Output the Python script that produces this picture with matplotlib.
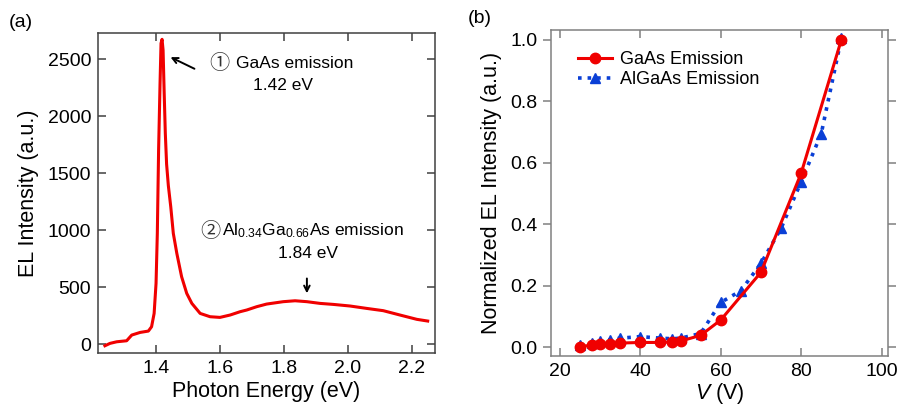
import matplotlib
matplotlib.use('Agg')
import matplotlib.pyplot as plt

plt.rcParams['font.family'] = ['Liberation Sans', 'Noto Sans CJK JP', 'DejaVu Sans']
plt.rcParams['mathtext.fontset'] = 'custom'
plt.rcParams['mathtext.rm'] = 'Liberation Sans'
plt.rcParams['mathtext.it'] = 'Liberation Sans:italic'

# (a) EL spectrum
energy = [1.240, 1.256, 1.277, 1.308, 1.324, 1.350, 1.376, 1.386, 1.394, 1.400,
          1.404, 1.408, 1.4125, 1.4156, 1.4188, 1.422, 1.4255, 1.429, 1.433,
          1.4385, 1.446, 1.454, 1.465, 1.480, 1.496, 1.512, 1.538, 1.569,
          1.600, 1.632, 1.663, 1.684, 1.715, 1.746, 1.798, 1.835, 1.872,
          1.913, 1.955, 2.007, 2.059, 2.111, 2.163, 2.216, 2.250]
intensity = [-15, 6, 20, 29, 79, 102, 114, 152, 269, 533,
             972, 1704, 2289, 2640, 2675, 2580, 2200, 1850, 1580,
             1390, 1206, 972, 796, 591, 445, 357, 269, 240,
             234, 255, 284, 299, 328, 351, 372, 380, 372,
             357, 348, 334, 313, 293, 255, 217, 202]

# (b) normalized EL intensity vs voltage
v_gaas = [25, 28, 30, 32.5, 35, 40, 45, 48, 50, 55, 60, 70, 80, 90]
el_gaas = [0.002, 0.0075, 0.0098, 0.011, 0.014, 0.016, 0.016, 0.018, 0.0205,
           0.039, 0.089, 0.244, 0.566, 1.0]
v_algaas = [25, 28, 30, 32.5, 35, 40, 45, 48, 50, 55, 60, 65, 70, 75, 80, 85, 90]
el_algaas = [0.008, 0.015, 0.02, 0.025, 0.03, 0.035, 0.03, 0.028, 0.03, 0.045,
             0.146, 0.184, 0.273, 0.387, 0.538, 0.695, 1.005]

fig = plt.figure(figsize=(8.97, 4.05), dpi=100)

# ---- panel (a)
ax1 = fig.add_axes([0.1093, 0.1291, 0.3757, 0.7887])
ax1.plot(energy, intensity, color='#f00000', lw=2.2)
ax1.set_xlim(1.2185, 2.273)
ax1.set_ylim(-76, 2728)
ax1.set_xticks([1.4, 1.6, 1.8, 2.0, 2.2])
ax1.set_yticks([0, 500, 1000, 1500, 2000, 2500])
ax1.tick_params(direction='in', top=True, right=True, length=6, width=1.1,
                color='#404040', labelsize=14, pad=5)
for sp in ax1.spines.values():
    sp.set_color('#404040')
    sp.set_linewidth(1.1)
ax1.set_xlabel('Photon Energy (eV)', fontsize=15.5, labelpad=3)
ax1.set_ylabel('EL Intensity (a.u.)', fontsize=15.5, labelpad=6)

ax1.annotate('', xy=(1.4375, 2529), xytext=(1.528, 2406),
             arrowprops=dict(arrowstyle='->', color='black', lw=1.4))
ax1.text(1.597, 2467, '\u2460', fontsize=14.5, ha='center', va='center',
         family='Noto Sans CJK JP', color='#333333')
ax1.text(1.6493, 2467, 'GaAs emission', fontsize=12.5, ha='left', va='center')
ax1.text(1.797, 2274, '1.42 eV', fontsize=12.5, ha='center', va='center')
ax1.text(1.571, 992, '\u2461', fontsize=14.5, ha='center', va='center',
         family='Noto Sans CJK JP', color='#333333')
ax1.text(1.6065, 992, 'Al$_{0.34}$Ga$_{0.66}$As emission', fontsize=12.5,
         ha='left', va='center')
ax1.text(1.874, 799, '1.84 eV', fontsize=12.5, ha='center', va='center')
ax1.annotate('', xy=(1.872, 421), xytext=(1.872, 600),
             arrowprops=dict(arrowstyle='->', color='black', lw=1.4))
fig.text(0.023, 0.945, '(a)', fontsize=14, ha='center', va='center')

# ---- panel (b)
ax2 = fig.add_axes([0.6143, 0.121, 0.3757, 0.805])
ax2.plot(v_algaas, el_algaas, ls=':', color='#0a3fd6', lw=2.6, marker='^',
         ms=7.5, label='AlGaAs Emission')
ax2.plot(v_gaas, el_gaas, ls='-', color='#f00000', lw=2.2, marker='o',
         ms=7.5, label='GaAs Emission')
ax2.set_xlim(17.8, 101.6)
ax2.set_ylim(-0.028, 1.0316)
ax2.set_xticks([20, 40, 60, 80, 100])
ax2.set_yticks([0.0, 0.2, 0.4, 0.6, 0.8, 1.0])
ax2.tick_params(axis='x', direction='in', top=True, bottom=True, length=6,
                width=1.1, color='#808080', labelsize=14, pad=5)
ax2.tick_params(axis='y', direction='out', left=True, right=True, length=6,
                width=1.1, color='#808080', labelsize=14, pad=4)
for sp in ax2.spines.values():
    sp.set_color('#808080')
    sp.set_linewidth(1.1)
ax2.set_xlabel('$\\mathit{V}$ (V)', fontsize=15.5, labelpad=1)
ax2.set_ylabel('Normalized EL Intensity (a.u.)', fontsize=15.5, labelpad=6)

handles, labels = ax2.get_legend_handles_labels()
ax2.legend(handles[::-1], labels[::-1], loc='upper left',
           bbox_to_anchor=(0.08, 0.935), frameon=False, fontsize=13,
           borderaxespad=0, borderpad=0, handlelength=1.9, handletextpad=0.45,
           labelspacing=0.15)
fig.text(0.535, 0.955, '(b)', fontsize=14, ha='center', va='center')

fig.savefig('out.png', dpi=100)
